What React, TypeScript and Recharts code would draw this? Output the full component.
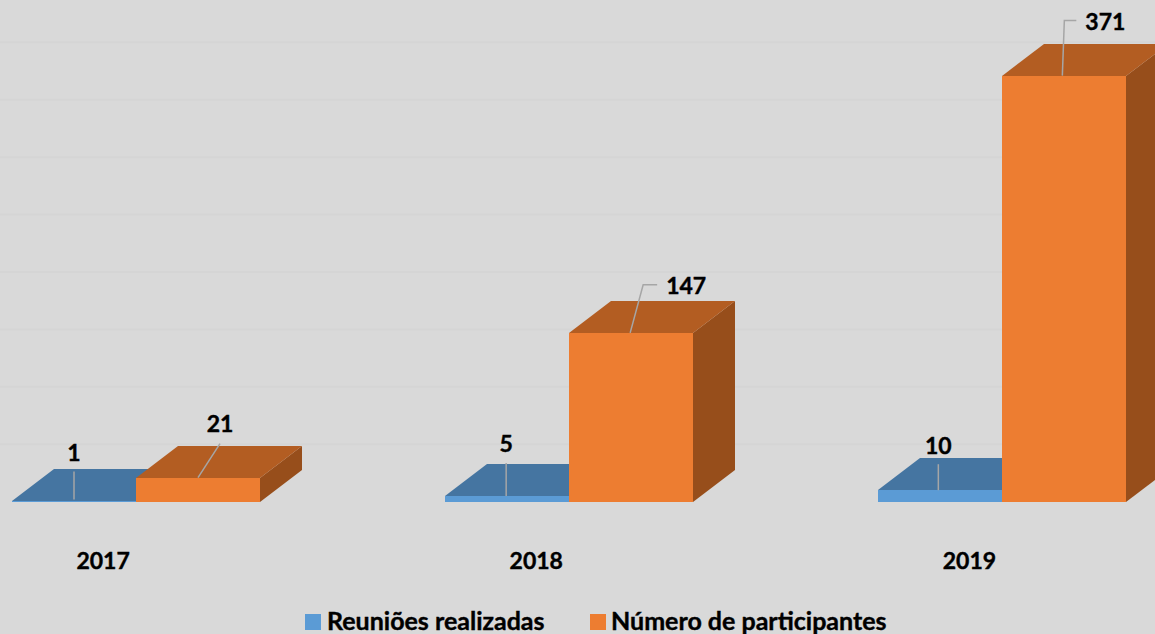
import React from "react";
import { BarChart, Bar, XAxis, YAxis, CartesianGrid, Legend, LabelList } from "recharts";

const years = ["2017", "2018", "2019"];
const reunioes = [1, 5, 10];
const participantes = [21, 147, 371];
const gridValues = [50, 100, 150, 200, 250, 300, 350, 400];
const seriesNames = ["Reuniões realizadas", "Número de participantes"];

const rows = years.map((year, i) => ({ year, reunioes: reunioes[i], participantes: participantes[i] }));

const FONT = "Lato, sans-serif";
const DEPTH_X = 42;
const DEPTH_Y = 32;
const BLUE = { front: "#5b9bd5", top: "#4575a1", side: "#3a6187" };
const ORANGE = { front: "#ed7d31", top: "#b35d22", side: "#974e1b" };

// leader lines and text anchors, relative to each bar's front-top-left corner
const blueCallouts = [
  { text: [62, -49], line: [[62, -1], [62, -29]] },
  { text: [61, -53], line: [[61, 0], [61, -33]] },
  { text: [60, -45], line: [[60, 0], [60, -26]] },
];
const orangeCallouts = [
  { text: [84, -55], line: [[62, 0], [84, -34]] },
  { text: [117, -48], line: [[61, 0], [74, -48], [88, -48]] },
  { text: [103, -55], line: [[60, 0], [62, -55], [74, -55]] },
];

const box3d = (c: typeof BLUE) => (p: any) => {
  const x = Math.round(p.x);
  const r = Math.round(p.x + p.width);
  const y = Math.round(p.y);
  const b = Math.round(p.y + p.height);
  return (
    <g>
      <polygon points={`${r},${y} ${r + DEPTH_X},${y - DEPTH_Y} ${r + DEPTH_X},${b - DEPTH_Y} ${r},${b}`} fill={c.side} />
      <polygon points={`${x},${y} ${r},${y} ${r + DEPTH_X},${y - DEPTH_Y} ${x + DEPTH_X},${y - DEPTH_Y}`} fill={c.top} />
      <rect x={x} y={y} width={r - x} height={b - y} fill={c.front} />
    </g>
  );
};

const callout = (table: typeof blueCallouts) => (p: any) => {
  const { x, y, value, index } = p;
  const t = table[index];
  return (
    <g>
      <polyline
        points={t.line.map(([dx, dy]) => `${x + dx},${y + dy}`).join(" ")}
        fill="none"
        stroke="#a6a6a6"
        strokeWidth={1.5}
      />
      <text x={x + t.text[0]} y={y + t.text[1]} textAnchor="middle" dominantBaseline="central"
        fontFamily={FONT} fontWeight={700} fontSize={23} fill="#000" stroke="#000" strokeWidth={0.4}>
        {value}
      </text>
    </g>
  );
};

const YearTick = (p: any) => (
  <text x={p.x - 32.5} y={p.y + 50.5} textAnchor="middle" dominantBaseline="central"
    fontFamily={FONT} fontWeight={700} fontSize={23} fill="#000" stroke="#000" strokeWidth={0.4}>
    {p.payload.value}
  </text>
);

const legendItems = [
  { swatch: 305, label: 327, color: BLUE.front, name: seriesNames[0] },
  { swatch: 590, label: 611, color: ORANGE.front, name: seriesNames[1] },
];

const LegendContent = () => (
  <div style={{ position: "relative", width: 1155, height: 0 }}>
    {legendItems.map((it) => (
      <React.Fragment key={it.name}>
        <span style={{ position: "absolute", left: it.swatch, top: 614, width: 16, height: 16, background: it.color }} />
        <span style={{ position: "absolute", left: it.label, top: 605, lineHeight: "30px", whiteSpace: "nowrap",
          fontFamily: FONT, fontWeight: 700, fontSize: 25, color: "#000", WebkitTextStroke: "0.4px #000" }}>
          {it.name}
        </span>
      </React.Fragment>
    ))}
  </div>
);

export default function App() {
  return (
    <div style={{ position: "absolute", left: 0, top: 0, width: 1155, height: 634, overflow: "hidden", background: "#d9d9d9" }}>
      <BarChart
        width={1155}
        height={634}
        data={rows}
        barSize={124}
        barGap={0}
        margin={{ top: 42.3, right: -63.5, bottom: 0, left: -81 }}
      >
        <CartesianGrid vertical={false} horizontalValues={gridValues} stroke="#d5d5d5" strokeWidth={2} />
        <XAxis dataKey="year" height={132.3} axisLine={false} tickLine={false} tick={YearTick} interval={0} />
        <YAxis hide domain={[0, 400]} />
        <Legend content={LegendContent} wrapperStyle={{ left: 0, top: 0, bottom: "auto", width: 1155, height: 0 }} />
        <Bar dataKey="reunioes" name={seriesNames[0]} fill={BLUE.front} isAnimationActive={false} shape={box3d(BLUE)}>
          <LabelList dataKey="reunioes" content={callout(blueCallouts)} />
        </Bar>
        <Bar dataKey="participantes" name={seriesNames[1]} fill={ORANGE.front} isAnimationActive={false} shape={box3d(ORANGE)}>
          <LabelList dataKey="participantes" content={callout(orangeCallouts)} />
        </Bar>
      </BarChart>
    </div>
  );
}
